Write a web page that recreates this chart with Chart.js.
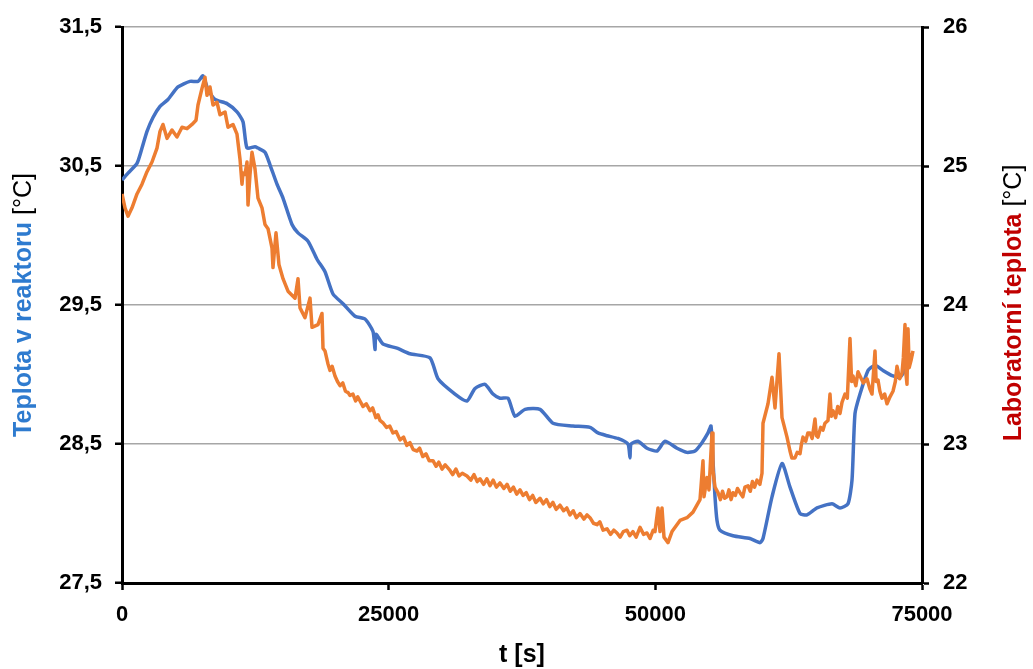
<!DOCTYPE html>
<html>
<head>
<meta charset="utf-8">
<script src="https://cdn.jsdelivr.net/npm/chart.js@4.4.1/dist/chart.umd.min.js"></script>
<style>
  body { margin: 0; background: #fff; }
  #wrap { width: 1033px; height: 669px; }
</style>
</head>
<body>
<div id="wrap"><canvas id="myChart" width="1033" height="669"></canvas></div>
<script>
// teplota v reaktoru (leva osa)
const reactorTime = [0, 563, 1406, 1875, 2344, 2906, 3563, 4313, 5250, 6375, 7125, 7594, 8063, 8719, 9844,
  10781, 11344, 11719, 12469, 12750, 13406, 13875, 14531, 15094, 15938, 16500, 17438, 18281, 19031, 19781,
  20719, 21844, 22781, 23531, 23719, 23813, 24469, 25781, 27000, 28875, 29625, 31219, 32344, 33094, 34031,
  34781, 35438, 36188, 36844, 37781, 39188, 40406, 42281, 43875, 44625, 45469, 46500, 47438, 47625, 47719,
  48375, 49219, 50156, 50906, 52031, 52969, 53719, 54375, 54938, 55219, 55406, 55594, 55781, 56063, 57281,
  58875, 59813, 60094, 60938, 61875, 62625, 63563, 64219, 65156, 66563, 67313, 68063, 68438, 68719, 69188,
  69938, 70406, 70781, 71344, 72281, 72938, 73594, 74063];
const reactorTemp = [30.40, 30.45, 30.52, 30.63, 30.75, 30.85, 30.93, 30.98, 31.07, 31.11, 31.11, 31.15, 31.05, 30.98, 30.95,
  30.89, 30.82, 30.63, 30.64, 30.63, 30.60, 30.51, 30.37, 30.27, 30.08, 30.02, 29.96, 29.83, 29.74, 29.58,
  29.51, 29.42, 29.40, 29.31, 29.18, 29.29, 29.22, 29.19, 29.15, 29.12, 28.97, 28.86, 28.81, 28.90, 28.93,
  28.86, 28.83, 28.83, 28.70, 28.75, 28.75, 28.65, 28.63, 28.62, 28.58, 28.56, 28.54, 28.50, 28.40, 28.50,
  28.52, 28.47, 28.45, 28.52, 28.47, 28.44, 28.45, 28.51, 28.58, 28.63, 28.38, 28.12, 27.95, 27.88, 27.84,
  27.82, 27.79, 27.82, 28.12, 28.36, 28.19, 28.00, 27.99, 28.04, 28.07, 28.04, 28.07, 28.24, 28.72, 28.86,
  29.03, 29.06, 29.06, 29.03, 28.99, 28.98, 29.06, 29.15];

// laboratorni teplota (prava osa)
const labTime = [0, 281, 563, 938, 1406, 1875, 2344, 2813, 3281, 3563, 3844, 4219, 4688, 5156, 5625, 6094, 6563,
  6938, 7125, 7500, 7781, 7969, 8250, 8531, 8906, 9188, 9656, 9938, 10406, 10781, 11063, 11250, 11344, 11531,
  11719, 11813, 12000, 12188, 12469, 12750, 13125, 13406, 13688, 14063, 14156, 14438, 14719, 15094, 15563,
  16219, 16500, 16688, 17156, 17625, 17813, 18375, 18750, 18844,
  19031, 19300, 19500, 19700, 19969, 20200, 20438, 20700, 20950, 21200, 21375, 21650, 21900, 22100, 22313,
  22600, 22900, 23250, 23500, 23800, 24000, 24188, 24500, 24800, 25100, 25400, 25700, 26063, 26400, 26700,
  27000, 27300, 27656, 27900, 28200, 28500, 28800, 29156, 29450, 29700, 30000, 30300, 30750, 31000, 31300,
  31600, 31900, 32344, 32700, 33000, 33300, 33563, 33900, 34200, 34500, 34800, 35100, 35438, 35800, 36100,
  36400, 36700, 37000, 37313, 37600, 37900, 38200, 38500, 38800, 39188, 39500, 39800, 40100, 40400, 40700,
  41063, 41400, 41700, 42000, 42300, 42600, 42938, 43300, 43600, 43875, 44200, 44531, 44800, 45100, 45469,
  45800, 46100, 46406, 46700, 47000, 47344, 47600, 47900, 48200, 48563, 48900, 49219, 49500, 49800, 49969,
  50250, 50438, 50625, 50813, 51188, 51563, 52313, 52969, 53531, 54188, 54469, 54563, 54844, 55031, 55313,
  55406, 55594, 55875, 56100, 56300, 56500, 56719, 56900, 57100, 57281, 57500, 57700, 57938, 58200, 58400,
  58688, 58900, 59100, 59300, 59531, 59800, 60000, 60094, 60563, 60938, 61219, 61594, 61875,
  62344, 62625, 62800, 63094, 63300, 63563, 63700, 63844, 64100, 64300, 64500, 64700, 64969, 65100, 65250,
  65500, 65719, 65900, 66188, 66375, 66500, 66656, 66900, 67100, 67313, 67500, 67781, 68000, 68250, 68400,
  68531, 68800, 69000, 69188, 69500, 69844, 70100, 70313, 70594, 70700, 70875, 71050, 71250, 71500, 71719,
  72000, 72281, 72500, 72656, 72900, 73125, 73250, 73406, 73500, 73594, 73688, 73800, 73969, 74156];
const labTemp = [24.80, 24.70, 24.64, 24.70, 24.80, 24.87, 24.96, 25.03, 25.13, 25.25, 25.30, 25.20, 25.26, 25.21, 25.28, 25.27, 25.30,
  25.33, 25.44, 25.56, 25.64, 25.51, 25.57, 25.44, 25.46, 25.37, 25.39, 25.28, 25.30, 25.23, 25.05, 24.87, 24.95, 24.94,
  25.03, 24.72, 24.94, 25.10, 24.98, 24.77, 24.70, 24.58, 24.55, 24.41, 24.27, 24.52, 24.29, 24.19, 24.10,
  24.05, 24.19, 23.98, 23.91, 24.05, 23.84, 23.86, 23.94, 23.69,
  23.67, 23.58, 23.53, 23.56, 23.49, 23.45, 23.42, 23.44, 23.38, 23.37, 23.35, 23.36, 23.31, 23.34, 23.31,
  23.27, 23.29, 23.24, 23.26, 23.19, 23.21, 23.17, 23.15, 23.12, 23.13, 23.08, 23.09, 23.03, 23.05, 22.99,
  23.01, 22.96, 22.95, 22.97, 22.91, 22.93, 22.88, 22.88, 22.84, 22.87, 22.82, 22.85, 22.81, 22.78, 22.82,
  22.77, 22.79, 22.77, 22.74, 22.78, 22.73, 22.75, 22.71, 22.75, 22.70, 22.74, 22.69, 22.72, 22.68, 22.71,
  22.66, 22.69, 22.64, 22.67, 22.63, 22.65, 22.60, 22.63, 22.58, 22.61, 22.57, 22.60, 22.55, 22.58, 22.53,
  22.56, 22.52, 22.54, 22.49, 22.52, 22.47, 22.50, 22.46, 22.49, 22.47, 22.43, 22.42, 22.44, 22.38, 22.39,
  22.35, 22.38, 22.36, 22.33, 22.37, 22.38, 22.34, 22.37, 22.33, 22.40, 22.35, 22.36, 22.32, 22.38, 22.37,
  22.54, 22.37, 22.54, 22.33, 22.29, 22.37, 22.45, 22.47, 22.51, 22.60, 22.88, 22.62, 22.76, 22.67, 23.08,
  22.81, 22.69, 22.65, 22.60, 22.66, 22.61, 22.62, 22.67, 22.60, 22.65, 22.63, 22.68, 22.65, 22.62, 22.69,
  22.70, 22.66, 22.73, 22.69, 22.74, 22.71, 22.79, 23.15, 23.29, 23.48, 23.26, 23.65, 23.19,
  23.05, 22.95, 22.90, 22.90, 22.94, 22.93, 23.00, 23.05, 23.02, 23.08, 23.08, 23.04, 23.18, 23.06, 23.05,
  23.12, 23.10, 23.15, 23.17, 23.36, 23.20, 23.24, 23.19, 23.27, 23.22, 23.30, 23.36, 23.33, 23.76, 23.45,
  23.49, 23.42, 23.52, 23.49, 23.44, 23.47, 23.40, 23.36, 23.67, 23.45, 23.46, 23.38, 23.33, 23.36, 23.29,
  23.34, 23.38, 23.45, 23.56, 23.47, 23.51, 23.62, 23.86, 23.50, 23.43, 23.83, 23.55, 23.60, 23.67];

const xTicks = [0, 25000, 50000, 75000];

const ctx = document.getElementById('myChart');

function drawParts(c, x, y, rot, parts) {
    c.save();
    c.translate(x, y);
    c.rotate(rot);
    c.textBaseline = 'middle';
    c.textAlign = 'left';
    let total = 0;
    parts.forEach(p => { c.font = p.font; total += c.measureText(p.text).width; });
    let pos = -total / 2;
    parts.forEach(p => {
        c.font = p.font;
        c.fillStyle = p.color;
        c.fillText(p.text, pos, 0);
        pos += c.measureText(p.text).width;
    });
    c.restore();
}

const axisTitles = {
    id: 'axisTitles',
    afterDraw(chart) {
        const c = chart.ctx;
        const bold = 'bold 25px "Liberation Sans", Arial, sans-serif';
        const reg = '25px "Liberation Sans", Arial, sans-serif';
        drawParts(c, 24, 305, -Math.PI / 2, [
            { text: 'Teplota v reaktoru ', font: bold, color: '#2E7BCF' },
            { text: '[°C]', font: reg, color: '#000' }
        ]);
        drawParts(c, 1014, 303, -Math.PI / 2, [
            { text: 'Laboratorní teplota ', font: bold, color: '#C00000' },
            { text: '[°C]', font: reg, color: '#000' }
        ]);
        drawParts(c, 522, 655, 0, [
            { text: 't [s]', font: bold, color: '#000' }
        ]);
    }
};

const tickFont = { family: '"Liberation Sans", Arial, sans-serif', size: 22, weight: 'bold' };

new Chart(ctx, {
    type: 'line',
    data: {
        datasets: [{
            label: 'Laboratorní teplota',
            data: labTime.map((t, i) => ({ x: t, y: labTemp[i] })),
            yAxisID: 'y2',
            borderColor: '#ED7D31',
            borderWidth: 3.5,
            borderJoinStyle: 'round',
            pointRadius: 0,
            tension: 0
        }, {
            label: 'Teplota v reaktoru',
            data: reactorTime.map((t, i) => ({ x: t, y: reactorTemp[i] })),
            yAxisID: 'y',
            borderColor: '#4472C4',
            borderWidth: 3.5,
            pointRadius: 0,
            tension: 0.2
        }]
    },
    options: {
        responsive: false,
        animation: false,
        layout: { padding: { top: 25, left: 0, right: 0, bottom: 0 } },
        scales: {
            x: {
                type: 'linear',
                min: 0,
                max: 75000,
                afterBuildTicks: s => { s.ticks = xTicks.map(v => ({ value: v })); },
                afterFit: s => { s.height = 86; },
                border: { color: '#000', width: 3 },
                grid: {
                    drawOnChartArea: false,
                    tickColor: '#000',
                    tickWidth: 2.5,
                    tickLength: 7
                },
                ticks: {
                    color: '#000',
                    font: tickFont,
                    padding: 12,
                    maxRotation: 0,
                    callback: v => String(v)
                }
            },
            y: {
                position: 'left',
                min: 27.5,
                max: 31.5,
                afterFit: s => { s.width = 122; },
                border: { color: '#000', width: 3 },
                grid: {
                    color: '#A6A6A6',
                    lineWidth: 1.5,
                    tickColor: '#000',
                    tickWidth: 2.5,
                    tickLength: 7
                },
                ticks: {
                    stepSize: 1,
                    color: '#000',
                    font: tickFont,
                    padding: 13,
                    callback: v => v.toFixed(1).replace('.', ',')
                }
            },
            y2: {
                position: 'right',
                min: 22,
                max: 26,
                afterFit: s => { s.width = 111; },
                border: { color: '#000', width: 3 },
                grid: {
                    drawOnChartArea: false,
                    tickColor: '#000',
                    tickWidth: 2.5,
                    tickLength: 7
                },
                ticks: {
                    stepSize: 1,
                    color: '#000',
                    font: tickFont,
                    padding: 14,
                    callback: v => String(v)
                }
            }
        },
        plugins: {
            legend: { display: false },
            tooltip: { enabled: false }
        }
    },
    plugins: [axisTitles]
});
</script>
</body>
</html>
